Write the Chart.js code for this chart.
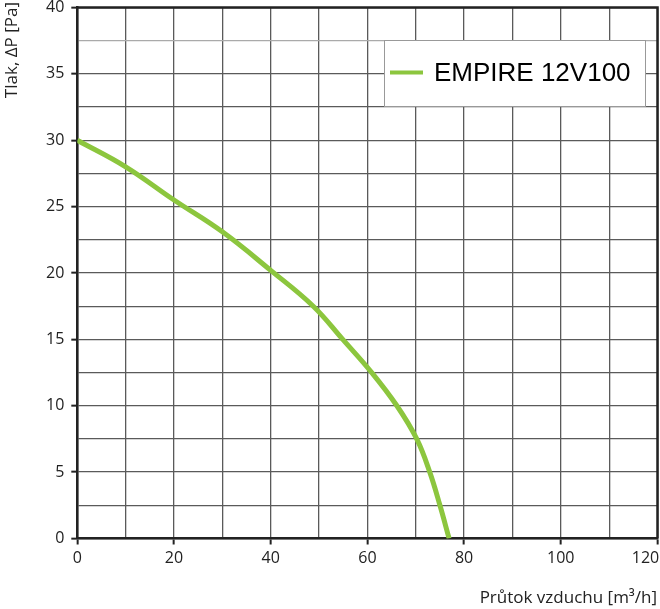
<!DOCTYPE html>
<html>
<head>
<meta charset="utf-8">
<script src="https://cdn.jsdelivr.net/npm/chart.js@4"></script>
<style>
  html, body { margin: 0; padding: 0; background: #fff; }
  #wrap { width: 660px; height: 609px; }
</style>
</head>
<body>
<div id="wrap"><canvas id="fanChart" width="660" height="609"></canvas></div>
<script>
// Data
const seriesName = 'EMPIRE 12V100';
const flowValues = [0, 10, 20, 30, 40, 48.8, 54.9, 60.9, 66.1, 70.2, 72.9, 75.0, 76.9];
const pressureValues = [30, 28, 25.5, 23.1, 20.2, 17.5, 15, 12.5, 10, 7.5, 5, 2.5, 0];
const xTitle = 'Průtok vzduchu [m³/h]';
const yTitle = 'Tlak, ΔP [Pa]';

const curveColor = '#8cc63e';
const tickFont = { family: 'Open Sans', size: 16 };

// Titles, frame and legend box
const extrasPlugin = {
    id: 'extras',
    afterDatasetsDraw(chart) {
        const { ctx, chartArea } = chart;
        ctx.save();

        // frame top + right
        ctx.strokeStyle = '#222';
        ctx.lineWidth = 2.5;
        ctx.beginPath();
        ctx.moveTo(chartArea.left, chartArea.top);
        ctx.lineTo(chartArea.right, chartArea.top);
        ctx.lineTo(chartArea.right, chartArea.bottom);
        ctx.stroke();

        // legend box
        ctx.fillStyle = '#fff';
        ctx.fillRect(384, 40, 261, 66);
        ctx.strokeStyle = '#999';
        ctx.lineWidth = 1;
        ctx.strokeRect(384.5, 40.5, 261, 66);
        ctx.strokeStyle = curveColor;
        ctx.lineWidth = 4;
        ctx.beginPath();
        ctx.moveTo(390, 72.5);
        ctx.lineTo(423, 72.5);
        ctx.stroke();
        ctx.fillStyle = '#000';
        ctx.font = '26px "Liberation Sans", Arial';
        ctx.textBaseline = 'middle';
        ctx.textAlign = 'left';
        ctx.fillText(seriesName, 434, 74);

        // axis titles
        ctx.fillStyle = '#222';
        ctx.font = '17px "Open Sans"';
        ctx.textAlign = 'right';
        ctx.textBaseline = 'alphabetic';
        ctx.fillText(xTitle, 657, 603);

        ctx.translate(17, 2);
        ctx.rotate(-Math.PI / 2);
        ctx.textAlign = 'right';
        ctx.fillText(yTitle, 0, 0);
        ctx.restore();
    }
};

new Chart(document.getElementById('fanChart'), {
    type: 'line',
    data: {
        datasets: [{
            label: seriesName,
            data: flowValues.map((x, i) => ({ x: x, y: pressureValues[i] })),
            borderColor: curveColor,
            borderWidth: 5,
            pointRadius: 0,
            tension: 0.4,
            fill: false
        }]
    },
    options: {
        responsive: false,
        animation: false,
        layout: { padding: { top: 7.5, right: 2.5, left: 0, bottom: 0 } },
        plugins: { legend: { display: false }, tooltip: { enabled: false } },
        scales: {
            x: {
                type: 'linear',
                min: 0,
                max: 120,
                afterFit: (s) => { s.height = 70.5; s.paddingLeft = 0; s.paddingRight = 0; },
                ticks: {
                    stepSize: 10,
                    autoSkip: false,
                    maxRotation: 0,
                    color: '#222',
                    font: tickFont,
                    padding: 4,
                    // last label pushed inward so it stays on the canvas
                    callback: (v) => (v === 120 ? '120\u2003\u2002' : (v % 20 === 0 ? v : ''))
                },
                grid: {
                    color: '#5a5a5a',
                    lineWidth: 1.3,
                    tickLength: 6,
                    tickColor: (c) => (c.tick && c.tick.value % 20 === 0 ? '#222' : 'rgba(0,0,0,0)'),
                    tickWidth: 2
                },
                border: { color: '#222', width: 2.5 }
            },
            y: {
                min: 0,
                max: 40,
                afterFit: (s) => { s.width = 77.3; s.paddingTop = 0; s.paddingBottom = 0; },
                ticks: {
                    stepSize: 2.5,
                    autoSkip: false,
                    color: '#222',
                    font: tickFont,
                    padding: 7,
                    callback: (v) => (v % 5 === 0 ? v : '')
                },
                grid: {
                    color: (c) => (c.tick && c.tick.value === 37.5 ? '#aaa' : '#5a5a5a'),
                    lineWidth: 1.3,
                    tickLength: 6,
                    tickColor: (c) => (c.tick && c.tick.value % 5 === 0 ? '#222' : 'rgba(0,0,0,0)'),
                    tickWidth: 2
                },
                border: { color: '#222', width: 2.5 }
            }
        }
    },
    plugins: [extrasPlugin]
});
</script>
</body>
</html>
